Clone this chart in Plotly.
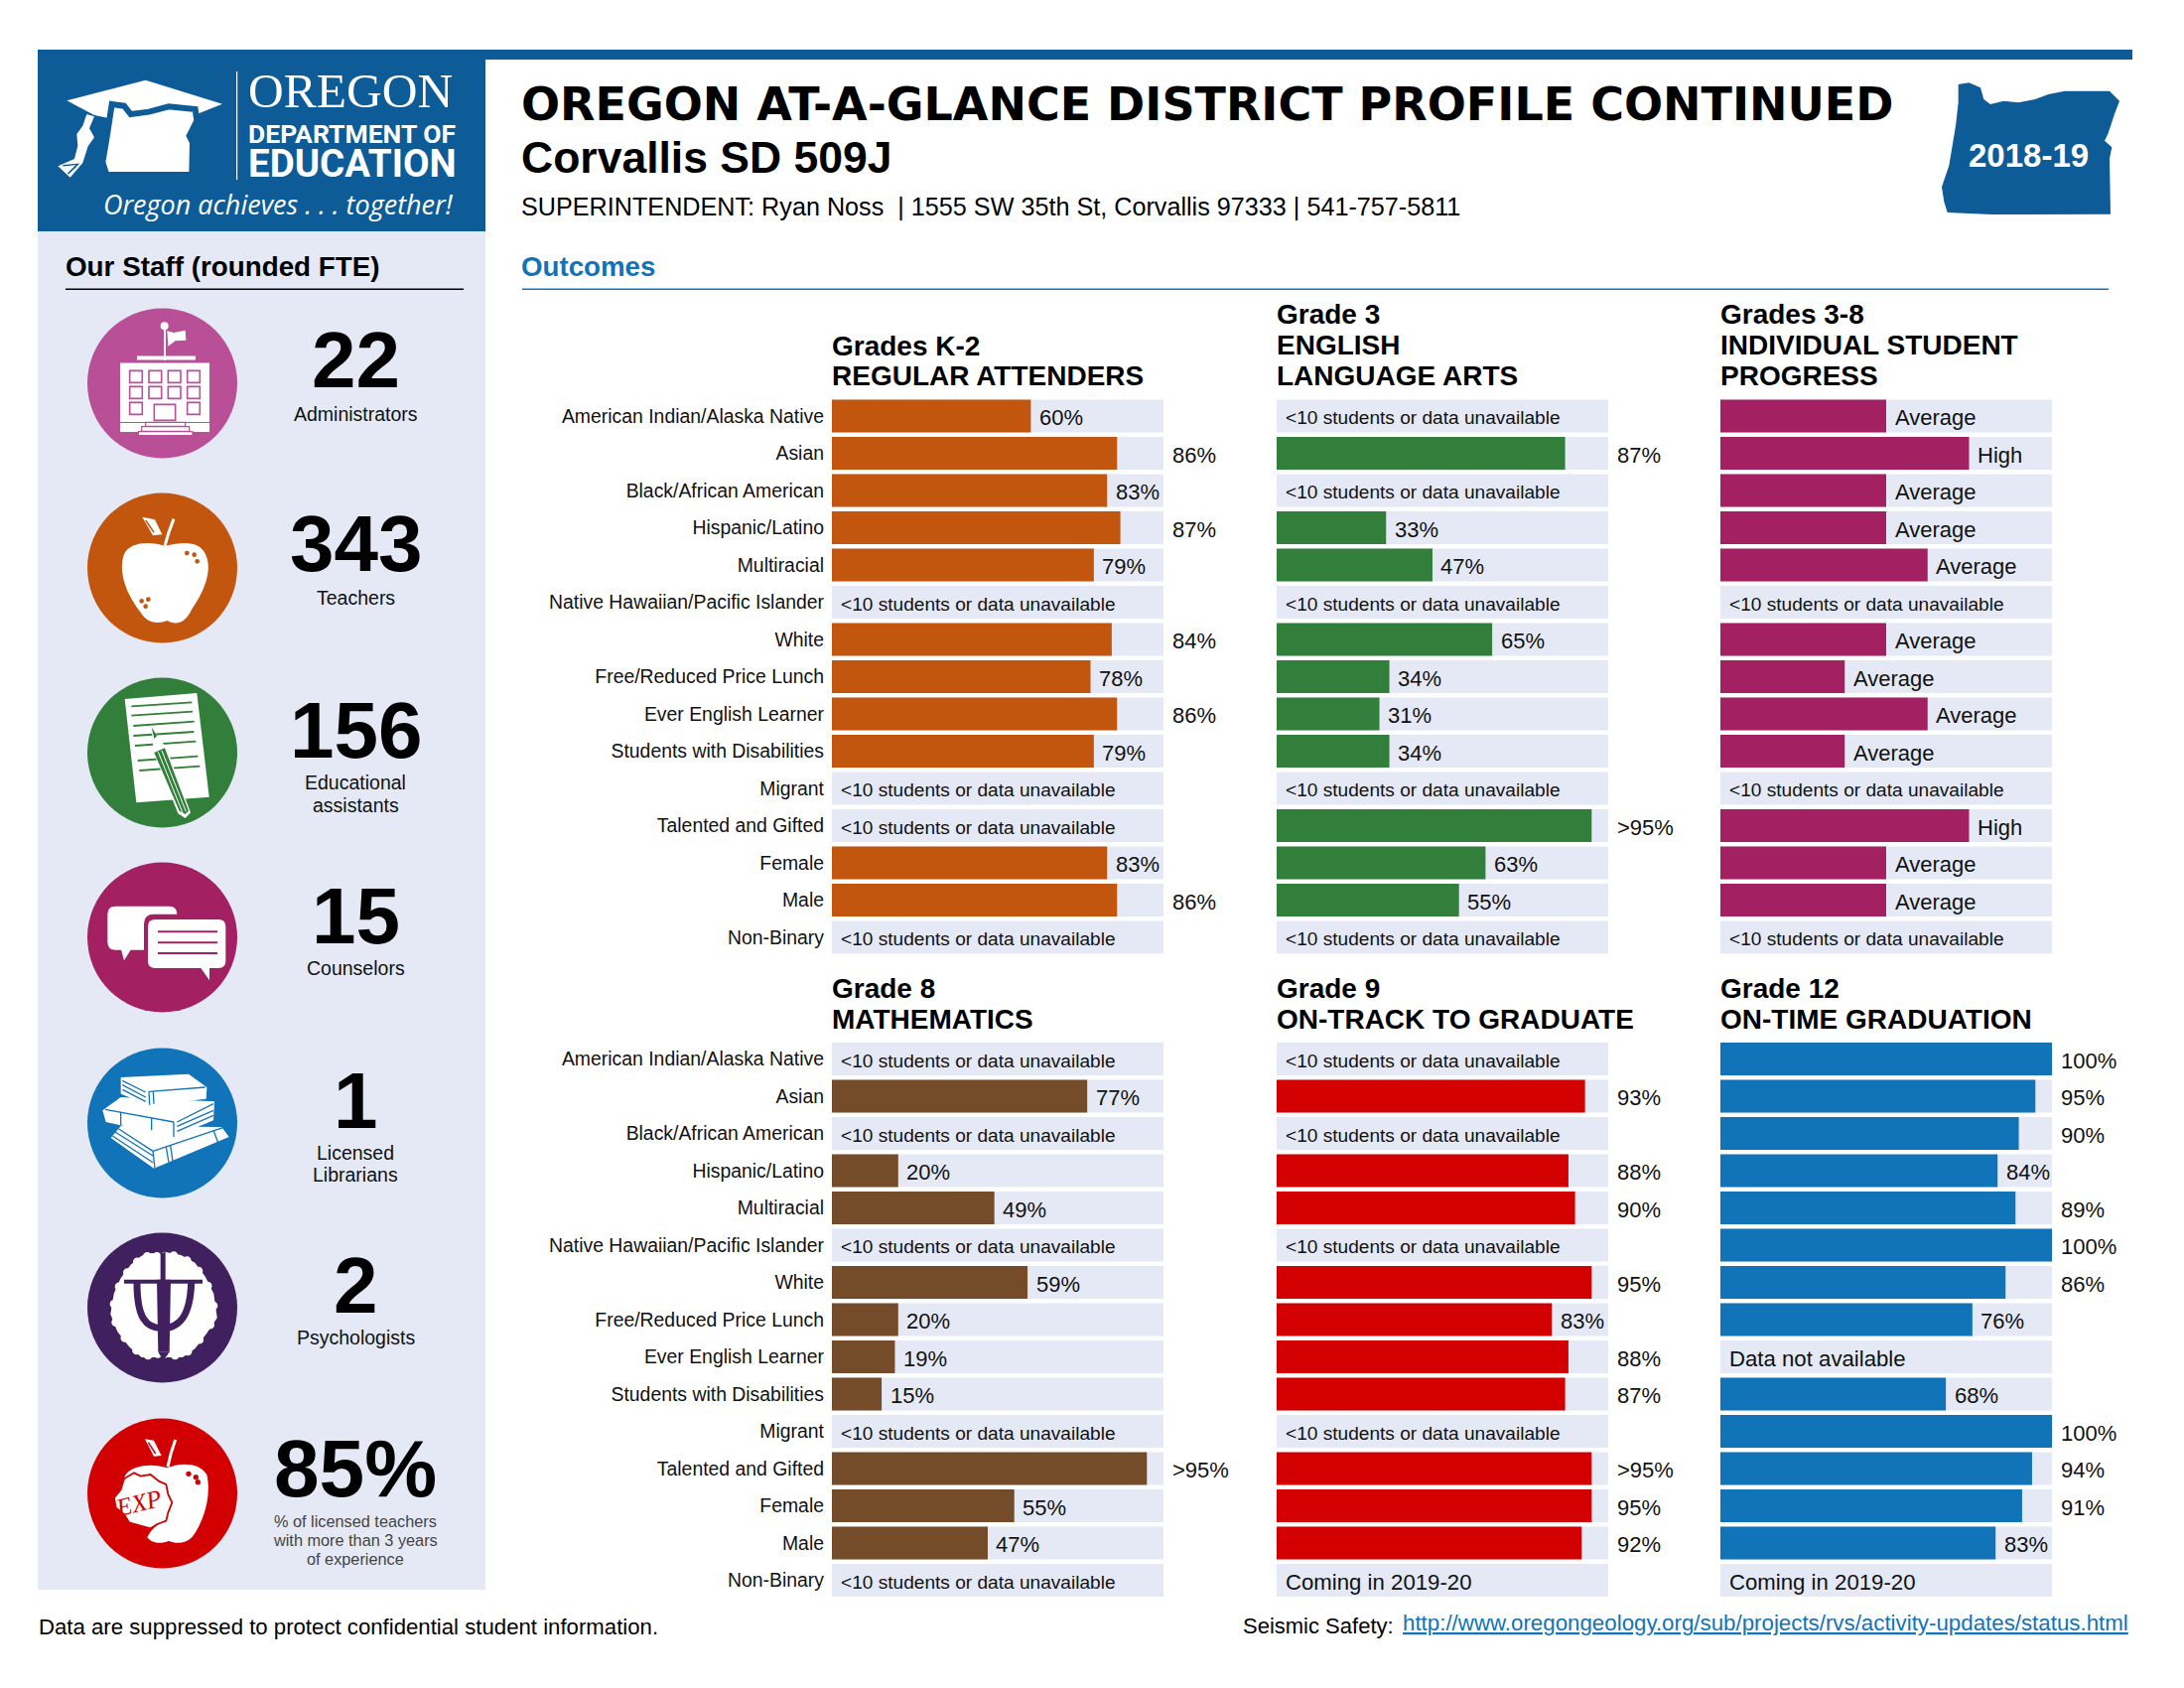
import re
import plotly.graph_objects as go

W, H = 2200, 1700

CATEGORIES = ["American Indian/Alaska Native", "Asian", "Black/African American", "Hispanic/Latino",
              "Multiracial", "Native Hawaiian/Pacific Islander", "White", "Free/Reduced Price Lunch",
              "Ever English Learner", "Students with Disabilities", "Migrant", "Talented and Gifted",
              "Female", "Male", "Non-Binary"]
NA = "<10 students or data unavailable"
SOON = "Coming in 2019-20"
MISSING = "Data not available"

attend_vals = [60, 86, 83, 87, 79, None, 84.4, 78, 86, 79, None, None, 83, 86, None]
attend_text = ["60%", "86%", "83%", "87%", "79%", NA, "84%", "78%", "86%", "79%", NA, NA, "83%", "86%", NA]
ela_vals = [None, 87, None, 33, 47, None, 65, 34, 31, 34, None, 95, 63, 55, None]
ela_text = [NA, "87%", NA, "33%", "47%", NA, "65%", "34%", "31%", "34%", NA, ">95%", "63%", "55%", NA]
progress_vals = [50, 75, 50, 50, 62.5, None, 50, 37.5, 62.5, 37.5, None, 75, 50, 50, None]
progress_text = ["Average", "High", "Average", "Average", "Average", NA, "Average", "Average", "Average",
                 "Average", NA, "High", "Average", "Average", NA]
math_vals = [None, 77, None, 20, 49, None, 59, 20, 19, 15, None, 95, 55, 47, None]
math_text = [NA, "77%", NA, "20%", "49%", NA, "59%", "20%", "19%", "15%", NA, ">95%", "55%", "47%", NA]
track_vals = [None, 93, None, 88, 90, None, 95, 83, 88, 87, None, 95, 95, 92, None]
track_text = [NA, "93%", NA, "88%", "90%", NA, "95%", "83%", "88%", "87%", NA, ">95%", "95%", "92%", SOON]
grad_vals = [100, 95, 90, 83.6, 89, 100, 86, 76, None, 68, 100, 94, 91, 83, None]
grad_text = ["100%", "95%", "90%", "84%", "89%", "100%", "86%", "76%", MISSING, "68%", "100%", "94%", "91%",
             "83%", SOON]
TRACK = [100] * 15

STAFF_NUM = ["22", "343", "156", "15", "1", "2", "85%"]
STAFF_LAB = [["Administrators"], ["Teachers"], ["Educational", "assistants"], ["Counselors"],
             ["Licensed", "Librarians"], ["Psychologists"], []]

BLUE = "#0D5C97"
LIGHT = "#E4E9F5"
PINK, ORANGE, GREEN, MAGENTA, SKY, PURPLE, RED, BROWN = ("#B84F97", "#C2560E", "#327F3B", "#A32063",
                                                         "#1173B8", "#41205F", "#D20000", "#754C29")
SANS = "Liberation Sans"

PANELS = [
    ("x", "y", attend_vals, attend_text, ORANGE, 838, 400.25, True),
    ("x2", "y2", ela_vals, ela_text, GREEN, 1286, 400.25, False),
    ("x3", "y3", progress_vals, progress_text, MAGENTA, 1733, 400.25, False),
    ("x4", "y4", math_vals, math_text, BROWN, 838, 1047.75, True),
    ("x5", "y5", track_vals, track_text, RED, 1286, 1047.75, False),
    ("x6", "y6", grad_vals, grad_text, SKY, 1733, 1047.75, False),
]

shapes, notes = [], []


def px(x):
    return x / W


def py(y):
    return 1 - y / H


def rect(x0, y0, x1, y1, color):
    shapes.append(dict(type="rect", xref="paper", yref="paper", x0=px(x0), x1=px(x1), y0=py(y0), y1=py(y1),
                       fillcolor=color, line=dict(width=0), layer="below"))


def circle(cx, cy, r, color):
    shapes.append(dict(type="circle", xref="paper", yref="paper", x0=px(cx - r), x1=px(cx + r),
                       y0=py(cy - r), y1=py(cy + r), fillcolor=color, line=dict(width=0), layer="below"))


def path(x0, y0, d, fill=None, stroke=None, lw=0):
    """d holds zoom-crop coordinates (3 units = 1 page pixel) relative to the crop origin x0, y0."""
    out, is_x = [], True
    for tok in re.findall(r"[MLCQZ]|-?\d+\.?\d*", d):
        if tok in "MLCQZ":
            out.append(tok)
            is_x = True
        else:
            v = float(tok)
            out.append(f"{px(x0 + v / 3):.5f}" if is_x else f"{py(y0 + v / 3):.5f}")
            is_x = not is_x
    s = dict(type="path", xref="paper", yref="paper", path=" ".join(out), layer="below",
             line=dict(width=lw, color=stroke or "rgba(0,0,0,0)"))
    if fill:
        s["fillcolor"] = fill
    shapes.append(s)


def poly(x0, y0, pts, fill=None, stroke=None, lw=0, close=True):
    d = "M " + " L ".join(f"{a} {b}" for a, b in pts) + (" Z" if close else "")
    path(x0, y0, d, fill, stroke, lw)


def rrect(x0, y0, a, b, c, e, r, fill):
    d = (f"M {a + r} {b} L {c - r} {b} Q {c} {b} {c} {b + r} L {c} {e - r} Q {c} {e} {c - r} {e} "
         f"L {a + r} {e} Q {a} {e} {a} {e - r} L {a} {b + r} Q {a} {b} {a + r} {b} Z")
    path(x0, y0, d, fill)


def dot(x0, y0, zx, zy, zr, color):
    circle(x0 + zx / 3, y0 + zy / 3, zr / 3, color)


def txt(x, y, s, size, color="#000000", family=SANS, anchor="left", angle=0):
    notes.append(dict(xref="paper", yref="paper", x=px(x), y=py(y), text=s, showarrow=False, xanchor=anchor,
                      yanchor="middle", font=dict(size=size, color=color, family=family), textangle=angle,
                      borderpad=0, borderwidth=0))


# page furniture -------------------------------------------------------------
rect(38, 50, 2148, 60, BLUE)
rect(38, 60, 489, 233, BLUE)
rect(38, 233, 489, 1601, LIGHT)
rect(66, 290.5, 467, 292, "#000000")
rect(526, 290.5, 2124, 292, SKY)

# logo
LX, LY = 50, 60
poly(LX, LY, [(52, 124), (290, 62), (522, 134), (420, 175), (290, 200), (135, 168)], "#FFFFFF")
poly(LX, LY, [(188, 135), (225, 140), (245, 165), (300, 158), (360, 142), (440, 150), (445, 185), (422, 230),
              (432, 250), (430, 348), (172, 348), (160, 310), (172, 240)], "#FFFFFF", BLUE, 6)
poly(LX, LY, [(112, 165), (135, 172), (120, 208), (135, 235), (116, 262), (100, 312), (62, 356), (25, 322),
              (75, 300), (85, 260), (82, 225), (100, 200)], "#FFFFFF")
poly(LX, LY, [(40, 320), (85, 316), (55, 345), (80, 322)], None, BLUE, 1.5, close=False)
rect(LX + 188, LY + 12, LX + 189.2, LY + 121, "#FFFFFF")
txt(250, 92, "OREGON", 49.5, "#FFFFFF", "Liberation Serif")
txt(250, 135, "<b>DEPARTMENT OF</b>", 26.5, "#FFFFFF", "Roboto")
txt(250, 165, "<b>EDUCATION</b>", 38.5, "#FFFFFF", "Roboto")
txt(104, 205.5, "<i>Oregon achieves . . . together!</i>", 27, "#FFFFFF", "Open Sans")

# headings
txt(525, 105, "<b>OREGON AT-A-GLANCE DISTRICT PROFILE CONTINUED</b>", 46, "#000000", "DejaVu Sans")
txt(525, 159, "<b>Corvallis SD 509J</b>", 44.5)
txt(525, 208, "SUPERINTENDENT: Ryan Noss  | 1555 SW 35th St, Corvallis 97333 | 541-757-5811", 25.2)
txt(525, 268, "<b>Outcomes</b>", 27.7, SKY)
txt(66, 268, "<b>Our Staff (rounded FTE)</b>", 27.8)

# Oregon badge
poly(1940, 70, [(98, 45), (130, 40), (165, 55), (175, 90), (195, 105), (235, 95), (280, 100), (330, 90), (370, 75),
                (420, 65), (555, 65), (585, 95), (570, 135), (550, 195), (540, 215), (562, 235), (555, 270),
                (558, 437), (200, 438), (65, 432), (55, 400), (48, 355), (70, 290), (90, 170), (98, 100)], BLUE)
txt(2043, 157, "<b>2018-19</b>", 33, "#FFFFFF", anchor="center")

# staff column --------------------------------------------------------------
CX = 163.5
CYS = [386, 572, 758, 944, 1131, 1317, 1504]
COLS = [PINK, ORANGE, GREEN, MAGENTA, SKY, PURPLE, RED]
for cy, c in zip(CYS, COLS):
    circle(CX, cy, 75.5, c)
NUM_Y = [363, 548, 735, 922, 1108, 1294, 1478]
NUM_SIZE = [80, 80, 80, 80, 80, 80, 82]
LAB_Y = [[417], [602], [788, 811], [975], [1161, 1183], [1347], []]
for n, ny, ns, labs, ly in zip(STAFF_NUM, NUM_Y, NUM_SIZE, STAFF_LAB, LAB_Y):
    txt(358, ny, f"<b>{n}</b>", ns, anchor="center")
    for s, y in zip(labs, ly):
        txt(358, y, s, 19.5, "#111111", anchor="center")
for s, y in zip(["% of licensed teachers", "with more than 3 years", "of experience"], [1532, 1551, 1570]):
    txt(358, y, s, 16.3, "#444444", anchor="center")

W_ = "#FFFFFF"
# school
X0, Y0 = 80, 300
rect(X0 + 41, Y0 + 65.5, X0 + 131, Y0 + 125, W_)
rect(X0 + 41, Y0 + 126, X0 + 131, Y0 + 135, W_)
rect(X0 + 58, Y0 + 58.5, X0 + 117, Y0 + 62.5, W_)
rect(X0 + 85, Y0 + 28, X0 + 87, Y0 + 63, W_)
dot(X0, Y0, 257, 85, 12, W_)
poly(X0, Y0, [(265, 100), (285, 105), (320, 98), (322, 128), (290, 130), (268, 146)], W_)
for row, b in enumerate([220, 268, 316]):
    for col, a in enumerate([152, 210, 268, 326]):
        if row == 2 and col in (1, 2):
            continue
        poly(X0, Y0, [(a, b), (a + 38, b), (a + 38, b + 36), (a, b + 36)], W_, PINK, 1.6)
poly(X0, Y0, [(226, 322), (290, 322), (290, 370), (226, 370)], W_, PINK, 1.6)
poly(X0, Y0, [(200, 376), (320, 376), (320, 388), (200, 388)], W_, PINK, 1.2)
poly(X0, Y0, [(188, 389), (332, 389), (332, 403), (188, 403)], W_, PINK, 1.2)
poly(X0, Y0, [(178, 404), (342, 404), (342, 416), (178, 416)], W_, PINK, 1.2)

# apple
AP = ("M 258 750 C 220 735 150 735 135 775 C 115 830 145 900 185 950 C 205 985 240 985 265 975 "
      "C 290 990 320 985 340 940 C 375 890 400 830 385 785 C 370 735 320 735 258 750 Z")
path(X0, Y0, AP, W_)
for a, b in [(325, 771), (347, 776), (356, 796), (188, 916), (208, 911), (200, 932)]:
    dot(X0, Y0, a, b, 7, ORANGE)
path(X0, Y0, "M 258 750 Q 268 710 285 668", None, W_, 3)
poly(X0, Y0, [(190, 662), (228, 670), (250, 715), (222, 718)], W_)
poly(X0, Y0, [(200, 672), (225, 708)], None, ORANGE, 1.5, close=False)

# paper & pencil
X0, Y0 = 80, 670
poly(X0, Y0, [(137, 102), (355, 84), (392, 398), (172, 415)], W_)
for seg in [[(157, 124), (340, 112)], [(157, 152), (342, 140)], [(163, 183), (347, 170)], [(163, 213), (346, 201)],
            [(168, 243), (352, 230)], [(176, 288), (358, 275)], [(181, 318), (364, 305)]]:
    poly(X0, Y0, seg, None, GREEN, 1.8, close=False)
poly(X0, Y0, [(218, 188), (262, 248), (336, 445), (320, 462), (298, 448), (224, 262)], W_)
poly(X0, Y0, [(218, 188), (235, 212), (226, 222)], GREEN)
poly(X0, Y0, [(226, 264), (258, 250), (330, 440), (320, 450), (302, 440)], GREEN)
poly(X0, Y0, [(238, 262), (312, 446)], None, W_, 1, close=False)
poly(X0, Y0, [(249, 258), (322, 442)], None, W_, 1, close=False)

# speech bubbles
rrect(X0, Y0, 85, 728, 295, 860, 24, W_)
poly(X0, Y0, [(125, 855), (135, 892), (158, 855)], W_)
rrect(X0, Y0, 195, 752, 455, 930, 30, MAGENTA)
rrect(X0, Y0, 207, 768, 442, 915, 22, W_)
poly(X0, Y0, [(365, 912), (393, 952), (393, 912)], W_)
for b in [805, 838, 870]:
    poly(X0, Y0, [(237, b), (417, b)], None, MAGENTA, 2, close=False)

# books
X0, Y0 = 80, 1040
poly(X0, Y0, [(125, 135), (330, 125), (385, 165), (383, 200), (210, 218), (125, 185)], W_)
poly(X0, Y0, [(70, 235), (125, 195), (408, 208), (405, 265), (285, 315), (80, 270)], W_)
poly(X0, Y0, [(95, 318), (125, 282), (430, 285), (452, 315), (225, 410)], W_)
for seg in [[(130, 145), (200, 180)], [(130, 158), (200, 195)], [(130, 172), (200, 208)],
            [(210, 178), (380, 165)], [(210, 178), (212, 218)], [(223, 178), (225, 215)],
            [(78, 232), (285, 270)], [(285, 270), (285, 315)], [(125, 240), (125, 280)], [(218, 258), (218, 295)],
            [(405, 215), (295, 270)], [(405, 235), (295, 283)], [(405, 250), (295, 298)],
            [(100, 312), (222, 392)], [(108, 300), (222, 372)], [(118, 290), (222, 358)],
            [(222, 358), (445, 283)], [(222, 358), (228, 410)], [(262, 345), (270, 392)], [(275, 340), (282, 388)],
            [(405, 295), (418, 330)]]:
    poly(X0, Y0, seg, None, SKY, 1.3, close=False)

# brain & psi
BR = [(248, 680), (220, 672), (190, 680), (160, 705), (130, 745), (110, 790), (100, 850), (120, 900), (155, 945),
      (190, 975), (225, 975), (248, 965), (268, 975), (310, 975), (345, 950), (380, 905), (410, 860), (400, 790),
      (375, 740), (345, 700), (305, 678), (265, 670)]
path(X0, Y0, "M " + " L ".join(f"{a} {b}" for a, b in BR) + " Z", W_, W_, 4)
for i, (a, b) in enumerate(BR):
    c, e = BR[(i + 1) % len(BR)]
    dot(X0, Y0, (a + c) / 2, (b + e) / 2, 13, W_)
poly(X0, Y0, [(245, 665), (260, 663), (260, 750), (245, 750)], PURPLE)
poly(X0, Y0, [(135, 746), (372, 746), (372, 758), (135, 758)], PURPLE)
poly(X0, Y0, [(234, 746), (276, 746), (272, 965), (238, 965)], PURPLE)
poly(X0, Y0, [(238, 965), (272, 965), (258, 985), (250, 985)], PURPLE)
path(X0, Y0, "M 174 755 C 174 860 200 893 250 893 C 300 893 335 860 338 755", None, PURPLE, 7)

# EXP apple
X0, Y0 = 80, 1420
path(X0, Y0, "M 265 175 C 300 160 360 155 385 195 C 400 260 375 340 340 385 C 320 405 290 405 270 395 "
             "C 250 405 220 405 205 385 C 215 365 225 355 240 345 L 150 260 L 135 205 C 150 165 220 160 265 175 Z", W_)
poly(X0, Y0, [(135, 208), (165, 190), (185, 200), (215, 195), (240, 215), (262, 225), (268, 255), (280, 280),
              (268, 310), (262, 335), (235, 345), (215, 358), (185, 350), (150, 340), (135, 315), (110, 295), (105, 265),
              (125, 240)], W_, RED, 1.8)
for a, b in [(330, 193), (352, 203), (358, 218)]:
    dot(X0, Y0, a, b, 8, RED)
path(X0, Y0, "M 267 172 Q 275 130 290 90", None, W_, 3)
poly(X0, Y0, [(198, 88), (225, 92), (248, 138), (225, 140)], W_)
poly(X0, Y0, [(208, 98), (230, 132)], None, RED, 1.5, close=False)
txt(X0 + 60, Y0 + 93, "<i>EXP</i>", 25, RED, "Liberation Serif", "center", -14)

# panel titles ---------------------------------------------------------------
TITLES = [(838, [(348, "Grades K-2"), (379, "REGULAR ATTENDERS")]),
          (1286, [(316, "Grade 3"), (347, "ENGLISH"), (379, "LANGUAGE ARTS")]),
          (1733, [(316, "Grades 3-8"), (347, "INDIVIDUAL STUDENT"), (379, "PROGRESS")]),
          (838, [(995, "Grade 8"), (1026, "MATHEMATICS")]),
          (1286, [(995, "Grade 9"), (1026, "ON-TRACK TO GRADUATE")]),
          (1733, [(995, "Grade 12"), (1026, "ON-TIME GRADUATION")])]
for x, rows in TITLES:
    for y, s in rows:
        txt(x, y, f"<b>{s}</b>", 28)

# footer
txt(39, 1638, "Data are suppressed to protect confidential student information.", 22.2)
txt(1252, 1637, "Seismic Safety:", 22)
txt(1413, 1634, "<u>http://www.oregongeology.org/sub/projects/rvs/activity-updates/status.html</u>", 22.3, SKY)

# bars -----------------------------------------------------------------------
fig = go.Figure()
layout_axes = {}
for xa, ya, vals, labels, color, left, top, show_ticks in PANELS:
    fig.add_trace(go.Bar(x=TRACK, y=CATEGORIES, orientation="h", marker=dict(color=LIGHT, line=dict(width=0)),
                         xaxis=xa, yaxis=ya, hoverinfo="skip"))
    fig.add_trace(go.Bar(x=vals, y=CATEGORIES, orientation="h", marker=dict(color=color, line=dict(width=0)),
                         xaxis=xa, yaxis=ya, hoverinfo="skip"))
    for cat, v, s in zip(CATEGORIES, vals, labels):
        if v is None:
            at, size = 0, 19.1 if s == NA else 22.2
        else:
            at, size = (100 if v >= 84 else v), 22
        notes.append(dict(xref=xa, yref=ya, x=at, y=cat, text=s.replace("<", "&lt;"), showarrow=False, xanchor="left",
                          yanchor="middle", xshift=7.5, yshift=-1.5, borderpad=0,
                          font=dict(family=SANS, size=size, color="#111111")))
    xname = "xaxis" + xa[1:]
    yname = "yaxis" + ya[1:]
    layout_axes[xname] = dict(domain=[px(left), px(left + 334)], range=[0, 100], visible=False, fixedrange=True,
                              anchor=ya)
    layout_axes[yname] = dict(domain=[py(top + 562.5), py(top)], range=[14.5, -0.5], type="category",
                              categoryorder="array", categoryarray=CATEGORIES, anchor=xa, showgrid=False,
                              zeroline=False, showline=False, fixedrange=True, showticklabels=show_ticks,
                              ticks="", ticklabelstandoff=7,
                              tickfont=dict(family=SANS, size=19.4, color="#111111"))

fig.update_layout(width=W, height=H, margin=dict(l=0, r=0, t=0, b=0), paper_bgcolor="#FFFFFF",
                  plot_bgcolor="rgba(0,0,0,0)", barmode="overlay", bargap=0.12, showlegend=False, hovermode=False,
                  shapes=shapes, annotations=notes, **layout_axes)
fig.write_html("out.html", post_script="document.body.style.margin='0';", config=dict(displayModeBar=False))
